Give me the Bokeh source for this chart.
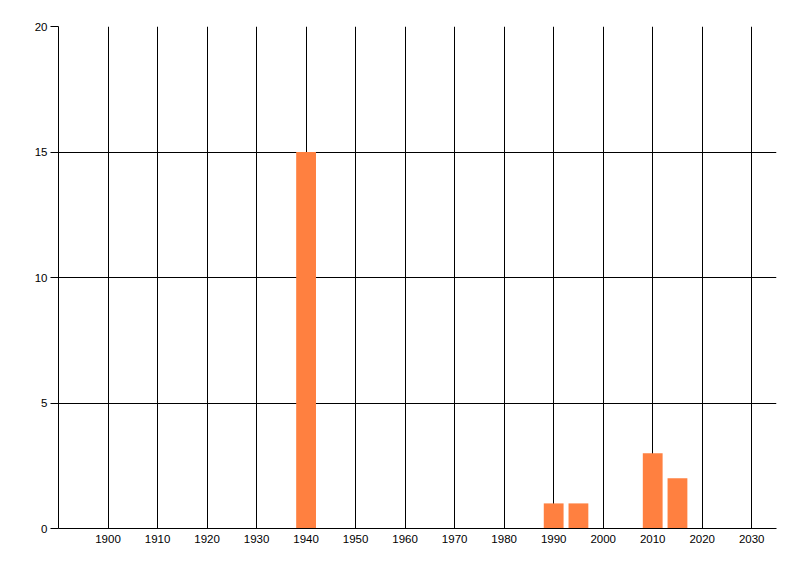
from bokeh.plotting import figure
from bokeh.models import Range1d, FixedTicker
from bokeh.embed import file_html
from bokeh.resources import INLINE

# Data
years = [1940, 1990, 1995, 2010, 2015]
counts = [15, 1, 1, 3, 2]
x_ticks = [1900, 1910, 1920, 1930, 1940, 1950, 1960, 1970, 1980, 1990, 2000, 2010, 2020, 2030]
y_ticks = [0, 5, 10, 15, 20]
bar_color = "#FF8040"

p = figure(width=784, height=560, output_backend="svg", toolbar_location=None,
           x_range=Range1d(1890, 2035), y_range=Range1d(0, 20),
           min_border_left=58, min_border_top=26, min_border_right=8, min_border_bottom=32)
p.outline_line_color = None
p.background_fill_color = "white"
p.border_fill_color = "white"

p.vbar(x=years, top=counts, width=4, bottom=0, fill_color=bar_color, line_color=None)

font = "Liberation Sans"
p.xaxis.ticker = FixedTicker(ticks=x_ticks)
p.yaxis.ticker = FixedTicker(ticks=y_ticks)
for ax in (p.xaxis, p.yaxis):
    ax.axis_line_color = "black"
    ax.axis_line_width = 1
    ax.major_tick_line_color = "black"
    ax.minor_tick_line_color = None
    ax.major_tick_in = 0
    ax.major_label_text_font = font
    ax.major_label_text_font_size = "11.5px"
    ax.major_label_text_color = "black"
p.xaxis.major_tick_out = 0
p.xaxis.major_label_standoff = 6
p.yaxis.major_tick_out = 8
p.yaxis.major_label_standoff = 3

p.xgrid.ticker = FixedTicker(ticks=x_ticks)
p.ygrid.ticker = FixedTicker(ticks=y_ticks)
p.grid.grid_line_color = "black"
p.grid.grid_line_width = 1
p.grid.grid_line_alpha = 1.0

open("out.html", "w").write(file_html(p, INLINE))
